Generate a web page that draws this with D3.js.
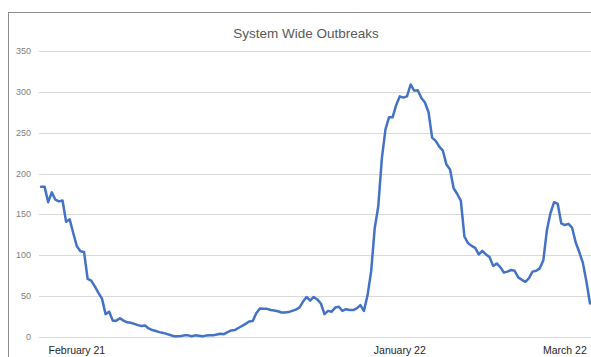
<!DOCTYPE html>
<html>
<head>
<meta charset="utf-8">
<script src="https://cdn.jsdelivr.net/npm/d3@7"></script>
<style>
html,body{margin:0;padding:0;background:#fff;}
svg{display:block;}
</style>
</head>
<body>
<svg id="chart" width="591" height="357"></svg>
<script>
const title = "System Wide Outbreaks";
const yTicks = [0, 50, 100, 150, 200, 250, 300, 350];
const xTickLabels = ["February 21", "January 22", "March 22"];
const xTickIndex = [10, 100, 146];
const outbreaks = [
  184,184,165,177,168,166,167,141,144,127,
  111,105,104,71,69,62,54,47,28,31,
  20,20,23,20,18,17.5,16,14.5,13.5,14,
  10.5,8.5,7.3,6,5,3.8,2.5,1,1,1.2,
  2,2,1,2,1.5,1,1.7,2,2,3,
  4,3.5,6,8,8.5,11,13.5,16,19,19.5,
  29,35,34.5,34.5,33,32.5,31.5,30,30,30.5,
  32,33.5,36,43,49,44.5,49,46,41,28,
  32,31,36,37,32,34,33,33,35,39,
  32,51,80,133,160,219,254,269,269,284,
  294.5,293,294.5,309,301.5,302,292.5,287,275,244,
  240,233,228,211,205,182,175,167,123,115,
  111.5,109,101,105.5,101,98,87,90,85.5,79,
  80,82,81,73,70,67.5,72,80,81,84,
  94,131,152,165,163,139,137,138.5,134,116,
  104,91,68,41
];

const svg = d3.select("#chart");
const font = "'Liberation Sans', Arial, sans-serif";

// frame
svg.append("rect")
  .attr("x", 8.5).attr("y", 12.5)
  .attr("width", 620).attr("height", 400)
  .attr("fill", "none").attr("stroke", "#8c8c8c").attr("stroke-width", 1);

const x = d3.scaleLinear().domain([0, outbreaks.length - 1]).range([41, 590]);
const y = d3.scaleLinear().domain([0, 350]).range([337, 51]);

// gridlines
svg.append("g").selectAll("line").data(yTicks).join("line")
  .attr("x1", 39).attr("x2", 591)
  .attr("y1", d => Math.round(y(d)) + 0.5).attr("y2", d => Math.round(y(d)) + 0.5)
  .attr("stroke", "#d9d9d9").attr("stroke-width", 1);

// y labels
svg.append("g").selectAll("text").data(yTicks).join("text")
  .attr("x", 31).attr("y", d => y(d) + 3)
  .attr("text-anchor", "end")
  .attr("font-family", font).attr("font-size", 9)
  .attr("fill", "#808080")
  .text(d => d);

// x labels
svg.append("g").selectAll("text").data(xTickLabels).join("text")
  .attr("x", (d, i) => x(xTickIndex[i]))
  .attr("y", 354)
  .attr("text-anchor", "middle")
  .attr("font-family", font).attr("font-size", 10.5)
  .attr("fill", "#262626")
  .text(d => d);

// title
svg.append("text")
  .attr("x", 306).attr("y", 38)
  .attr("text-anchor", "middle")
  .attr("font-family", font).attr("font-size", 13.5)
  .attr("fill", "#595959")
  .text(title);

// line
const line = d3.line().x((d, i) => x(i)).y(d => y(d));
svg.append("path")
  .datum(outbreaks)
  .attr("d", line)
  .attr("fill", "none")
  .attr("stroke", "#4472c4")
  .attr("stroke-width", 2.5)
  .attr("stroke-linejoin", "round")
  .attr("stroke-linecap", "round");
</script>
</body>
</html>
